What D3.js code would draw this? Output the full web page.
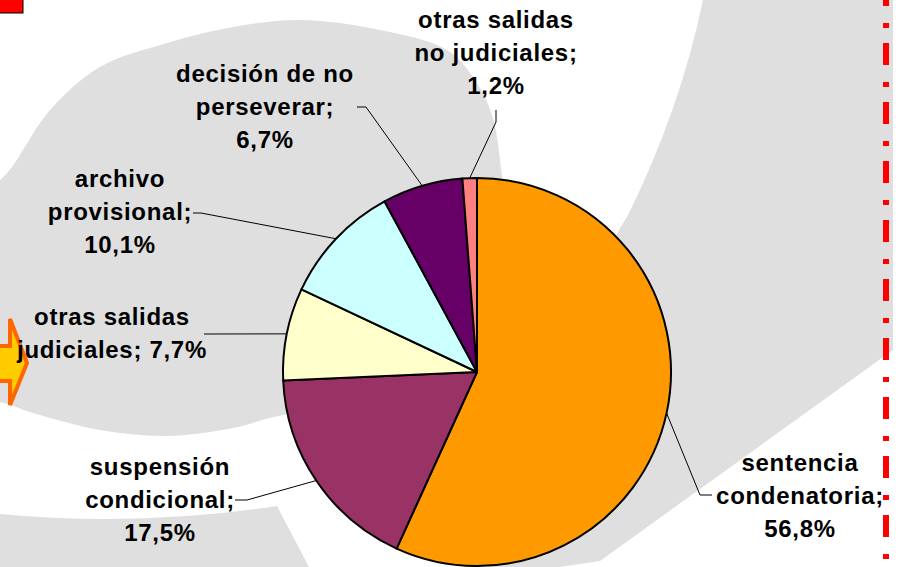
<!DOCTYPE html>
<html>
<head>
<meta charset="utf-8">
<script src="https://cdn.jsdelivr.net/npm/d3@7"></script>
<style>
  html, body { margin: 0; padding: 0; background: #fff; }
  svg { display: block; }
  text { font-family: "Liberation Sans", Arial, sans-serif; font-weight: bold; font-size: 24px; fill: #000; letter-spacing: 0.7px; }
</style>
</head>
<body>
<svg id="chart" width="899" height="567"></svg>
<script>
// ---------- data ----------
const categories = ["sentencia condenatoria", "suspensión condicional", "otras salidas judiciales",
                    "archivo provisional", "decisión de no perseverar", "otras salidas no judiciales"];
const values = [56.8, 17.5, 7.7, 10.1, 6.7, 1.2];
const sliceColors = ["#FF9900", "#993366", "#FFFFCC", "#CCFFFF", "#660066", "#FF8080"];
// label text lines; {v} is replaced with the formatted value
const labelLines = [
  ["sentencia", "condenatoria;", "{v}%"],
  ["suspensión", "condicional;", "{v}%"],
  ["otras salidas", "judiciales; {v}%"],
  ["archivo", "provisional;", "{v}%"],
  ["decisión de no", "perseverar;", "{v}%"],
  ["otras salidas", "no judiciales;", "{v}%"]
];

// ---------- layout ----------
const W = 899, H = 567;
const cx = 477, cy = 372, R = 194;
const lineGap = 33;
const labelLayout = [
  { x: 800, y: 471, lead: [[712, 495], [700, 495]] },
  { x: 160, y: 475, lead: [[235, 500], [247, 500]] },
  { x: 112, y: 325, lead: [[204, 334]] },
  { x: 120, y: 187, lead: [[193, 213], [201, 213]] },
  { x: 265, y: 82,  lead: [[357, 107], [366, 107]] },
  { x: 496, y: 28,  lead: [[496, 110], [496, 122]] }
];

const svg = d3.select("#chart");

// ---------- background ----------
const bg = svg.append("g");
const GRAY = "#DFDFDF";
const smooth = d3.line().curve(d3.curveCatmullRomClosed.alpha(0.5));
// left blob
bg.append("path").attr("fill", GRAY).attr("d", smooth([
  [-30, 190], [0, 180], [50, 110], [100, 67], [167, 43], [233, 27], [300, 20], [380, 30],
  [447, 50], [475, 80], [492, 115], [500, 160], [505, 260], [470, 350], [380, 405],
  [283, 415], [233, 428], [167, 436], [100, 430], [33, 413], [0, 402], [-30, 400]
]));
// lower-left band
bg.append("path").attr("fill", GRAY)
  .attr("d", "M0,514 Q140,527 277,506 L309,567 L0,567 Z");
// right swoosh
bg.append("path").attr("fill", GRAY)
  .attr("d", "M703,0 L893,0 L893,350 L600,561 L560,567 L470,567 L560,350 Q600,260 628,215 Q680,110 703,0 Z");

// red box top-left
bg.append("rect").attr("x", -2).attr("y", -2).attr("width", 25).attr("height", 15)
  .attr("fill", "#FF0000").attr("stroke", "#000").attr("stroke-width", 1);

// orange arrow at left
bg.append("path")
  .attr("d", "M-6,346 L10,346 L10,319 L27,363 L10,405 L10,381 L-6,381 Z")
  .attr("fill", "#FFCC00").attr("stroke", "#FF6600").attr("stroke-width", 4)
  .attr("stroke-linejoin", "miter");

// red dash-dot line at right
bg.append("line").attr("x1", 886).attr("x2", 886).attr("y1", 0).attr("y2", H)
  .attr("stroke", "#FF0000").attr("stroke-width", 6)
  .attr("stroke-dasharray", "22,17,5,15").attr("stroke-dashoffset", 16);

// ---------- pie ----------
const pie = d3.pie().sort(null).value(d => d)(values);
const arc = d3.arc().innerRadius(0).outerRadius(R);
const edge = d3.arc().innerRadius(R).outerRadius(R);

const g = svg.append("g").attr("transform", `translate(${cx},${cy})`);
g.selectAll("path.slice").data(pie).join("path")
  .attr("class", "slice")
  .attr("d", arc)
  .attr("fill", (d, i) => sliceColors[i])
  .attr("stroke", "#000").attr("stroke-width", 2).attr("stroke-linejoin", "round");

// ---------- leader lines ----------
const fmt = v => d3.format(".1f")(v).replace(".", ",");
pie.forEach((d, i) => {
  const c = edge.centroid(d);
  const pts = labelLayout[i].lead.concat([[cx + c[0], cy + c[1]]]);
  svg.append("path")
    .attr("d", d3.line()(pts))
    .attr("fill", "none").attr("stroke", "#000").attr("stroke-width", 1);
});

// ---------- labels ----------
labelLines.forEach((lines, i) => {
  const L = labelLayout[i];
  const t = svg.append("text").attr("text-anchor", "middle");
  lines.forEach((s, k) => {
    t.append("tspan").attr("x", L.x).attr("y", L.y + k * lineGap)
      .text(s.replace("{v}", fmt(values[i])));
  });
});
</script>
</body>
</html>
